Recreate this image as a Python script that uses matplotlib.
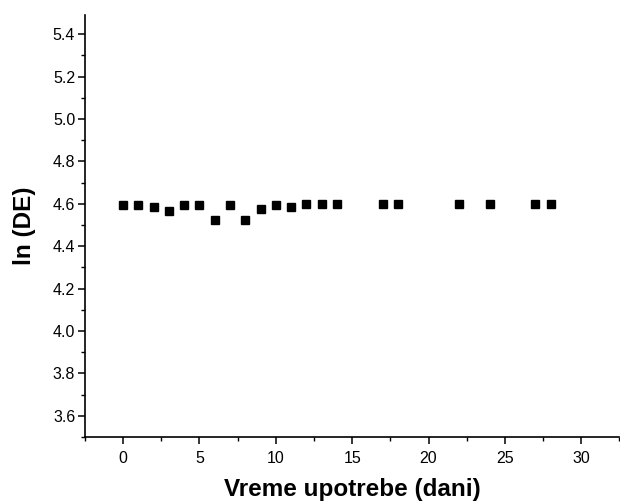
import matplotlib
matplotlib.use("Agg")
import matplotlib.pyplot as plt
from matplotlib.ticker import MultipleLocator

days = [0, 1, 2, 3, 4, 5, 6, 7, 8, 9, 10, 11, 12, 13, 14, 17, 18, 22, 24, 27, 28]
ln_de = [4.595, 4.595, 4.585, 4.565, 4.595, 4.595, 4.525, 4.595, 4.525, 4.575,
         4.595, 4.585, 4.597, 4.597, 4.597, 4.597, 4.597, 4.600, 4.600, 4.600, 4.600]

plt.rcParams['font.family'] = ['Liberation Sans', 'DejaVu Sans']

fig = plt.figure(figsize=(6.2, 5.04), dpi=100)
ax = fig.add_axes([0.137, 0.133, 0.862, 0.837])
ax.plot(days, ln_de, linestyle='none', marker='s', markersize=6, color='black')

ax.set_xlim(-2.5, 32.5)
ax.set_ylim(3.5, 5.49)
ax.xaxis.set_major_locator(MultipleLocator(5))
ax.xaxis.set_minor_locator(MultipleLocator(2.5))
ax.yaxis.set_minor_locator(MultipleLocator(0.1))
ax.set_yticks([3.6, 3.8, 4.0, 4.2, 4.4, 4.6, 4.8, 5.0, 5.2, 5.4])
ax.yaxis.set_major_formatter(plt.FormatStrFormatter('%.1f'))

for s in ['top', 'right']:
    ax.spines[s].set_visible(False)
for s in ['left', 'bottom']:
    ax.spines[s].set_linewidth(1.2)

ax.tick_params(axis='both', which='major', direction='out', length=5, width=1.1, labelsize=11.5)
ax.tick_params(axis='both', which='minor', direction='out', length=3, width=1.0)
ax.tick_params(axis='x', pad=5)
ax.tick_params(axis='y', pad=2)

ax.set_xlabel('Vreme upotrebe (dani)', fontsize=17.5, fontweight='bold', labelpad=9)
ax.set_ylabel('ln (DE)', fontsize=17.5, fontweight='bold', labelpad=12)

fig.savefig('out.png', dpi=100)
